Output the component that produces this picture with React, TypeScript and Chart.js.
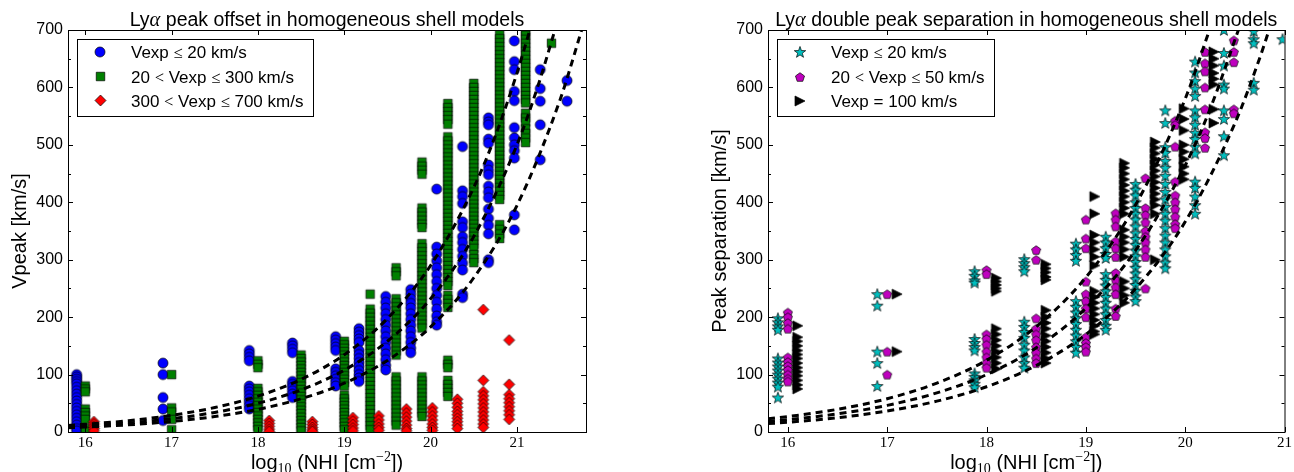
import { useEffect, useRef } from "react";
import { Chart, registerables } from "chart.js";

Chart.register(...registerables);

type Column = [number, number[]];
type Pt = [number, number];

// ---------- shared axes ----------
const yRange: Pt = [0, 700];
const yTickValues = [0, 100, 200, 300, 400, 500, 600, 700];
const yMinorTickValues = [50, 150, 250, 350, 450, 550, 650];
const xTickValues = [16, 17, 18, 19, 20, 21];
const leftXRange: Pt = [15.8, 21.8];
const rightXRange: Pt = [15.8, 21.0];

// ---------- left panel: peak offset (log NHI, Vpeak km/s) ----------
const offsetSlow: Column[] = [
  [15.9, [100, 96, 92, 88, 84, 78, 72, 66, 60, 54, 48, 42, 36, 30, 24, 18, 12, 6, 2]],
  [16.9, [120, 100, 60, 40, 20]],
  [17.9, [142, 136, 130, 124, 80, 75, 70, 64, 58, 52, 46, 40]],
  [18.4, [155, 150, 144, 138, 88, 83, 78, 72, 66, 60]],
  [18.9, [166, 160, 154, 148, 142, 110, 104, 98, 92, 86, 80]],
  [19.17, [180, 174, 168, 162, 156, 142, 135, 128, 121, 114, 107, 100, 94, 88]],
  [19.48, [236, 226, 216, 206, 196, 186, 176, 166, 156, 146, 136, 126, 116, 108]],
  [19.77, [248, 240, 232, 224, 216, 206, 196, 186, 176, 166, 156, 146, 138]],
  [20.07, [423, 322, 310, 298, 286, 274, 262, 250, 238, 226, 214, 202, 192, 186]],
  [20.37, [497, 420, 410, 398, 366, 356, 340, 330, 318, 306, 294, 282, 240, 234]],
  [20.67, [547, 540, 535, 510, 503, 465, 456, 448, 428, 418, 408, 388, 372, 360, 345, 300, 295]],
  [20.97, [681, 645, 631, 593, 577, 530, 512, 500, 490, 477, 378, 352]],
  [21.27, [631, 598, 576, 535, 474]],
  [21.58, [612, 576]],
];

const offsetMid: Column[] = [
  [16.0, [80, 75, 70, 40, 34, 28, 22, 6, 1]],
  [17.0, [100, 42, 35, 22, 4]],
  [18.0, [124, 118, 112, 76, 70, 64, 58, 52, 46, 40, 34, 28, 22, 16, 10, 4]],
  [18.5, [134, 128, 122, 116, 110, 104, 98, 92, 86, 80, 74, 68, 62, 56, 50, 44, 38, 32, 26, 20, 14, 8, 2]],
  [19.0, [158, 152, 146, 140, 134, 128, 122, 116, 110, 104, 98, 92, 86, 80, 64, 58, 52, 46, 40, 34, 28, 22, 16, 10, 4]],
  [19.3, [240, 214, 207, 200, 193, 186, 179, 172, 165, 158, 151, 144, 137, 130, 123, 116, 109, 102, 95, 88, 81, 74, 67, 60, 53, 46, 39, 32, 25, 18, 11, 4]],
  [19.6, [286, 279, 272, 232, 225, 218, 211, 204, 197, 190, 183, 176, 169, 162, 155, 148, 141, 134, 96, 89, 82, 75, 68, 61, 54, 47, 40, 33, 26, 19, 12]],
  [19.9, [470, 463, 456, 449, 390, 383, 376, 369, 362, 356, 328, 321, 314, 307, 300, 293, 286, 279, 272, 265, 258, 251, 244, 237, 230, 223, 216, 209, 202, 195, 188, 181, 96, 89, 82, 75, 68, 61, 54, 47, 40, 33, 27]],
  [20.2, [572, 565, 558, 551, 544, 536, 514, 507, 500, 493, 486, 479, 472, 465, 458, 451, 444, 437, 430, 423, 416, 409, 402, 395, 388, 381, 374, 367, 360, 353, 346, 339, 332, 325, 318, 311, 304, 297, 290, 283, 276, 269, 262, 255, 238, 231, 224, 217, 125, 118, 112, 90, 83, 76, 69, 62]],
  [20.5, [607, 600, 593, 586, 579, 572, 565, 558, 551, 544, 537, 530, 523, 516, 509, 502, 495, 488, 481, 474, 467, 460, 453, 446, 439, 432, 425, 418, 411, 404, 397, 390, 383, 376, 369, 362, 355, 348, 341, 334, 327, 320, 309, 302, 295]],
  [20.8, [692, 685, 678, 671, 664, 657, 650, 643, 636, 629, 622, 615, 608, 601, 594, 587, 580, 573, 566, 559, 552, 545, 538, 531, 524, 517, 510, 503, 496, 489, 482, 475, 468, 461, 454, 447, 440, 433, 426, 419, 412, 405, 361, 353, 345, 337]],
  [21.1, [698, 691, 684, 677, 670, 663, 656, 649, 642, 635, 628, 621, 614, 607, 600, 593, 586, 579, 573, 555, 547, 540, 528, 520, 512, 504]],
  [21.4, [677]],
];

const offsetFast: Column[] = [
  [16.1, [18, 14, 10, 6, 2]],
  [18.13, [20, 15, 10, 5, 1]],
  [18.63, [18, 13, 8, 4, 1]],
  [19.1, [25, 19, 13, 7, 2]],
  [19.4, [28, 21, 14, 8, 3]],
  [19.72, [40, 33, 26, 19, 12, 6, 2]],
  [20.02, [42, 35, 28, 21, 14, 8, 3]],
  [20.31, [57, 50, 43, 36, 30, 24, 18, 12, 6]],
  [20.61, [213, 90, 70, 63, 56, 49, 42, 35, 28, 21, 14, 8]],
  [20.91, [160, 83, 65, 58, 51, 44, 37, 30, 22]],
];

const offsetCurveA: Pt[] = [[15.8, 11.5], [16, 13.5], [16.5, 19.7], [17, 29], [17.5, 42.6], [18, 62.5], [18.5, 91.7], [19, 134.6], [19.5, 197.6], [20, 290], [20.5, 425.7], [20.75, 515.7], [21, 624.8], [21.15, 700]];
const offsetCurveB: Pt[] = [[15.8, 9.2], [16, 10.8], [16.5, 15.8], [17, 23.2], [17.5, 34.1], [18, 50], [18.5, 73.4], [19, 107.7], [19.5, 158], [20, 232], [20.5, 340.5], [21, 499.8], [21.25, 605.6], [21.44, 700]];
const offsetCurveC: Pt[] = [[15.8, 7.3], [16, 8.5], [16.5, 12.5], [17, 18.3], [17.5, 26.9], [18, 39.4], [18.5, 57.9], [19, 84.9], [19.5, 124.7], [20, 183], [20.5, 268.6], [21, 394.3], [21.5, 578.7], [21.75, 700]];

// ---------- right panel: double peak separation (log NHI, km/s) ----------
const sepSlow: Column[] = [
  [15.9, [198, 191, 184, 178, 128, 121, 114, 107, 100, 93, 86, 79, 60]],
  [16.9, [240, 220, 140, 120, 80]],
  [17.88, [280, 272, 264, 260, 162, 155, 148, 142, 102, 96, 90, 84, 78]],
  [18.38, [301, 294, 287, 280, 192, 183, 174, 164, 152, 142, 130, 120, 112]],
  [18.9, [328, 318, 308, 298, 228, 218, 208, 198, 188, 178, 168, 158, 148, 138]],
  [19.2, [340, 330, 320, 310, 303, 275, 265, 255, 245, 235, 225, 215, 205, 195, 185, 178]],
  [19.5, [432, 422, 412, 400, 390, 380, 370, 358, 346, 336, 326, 316, 306, 296, 286, 276, 266, 256, 246, 236, 228]],
  [19.8, [560, 538, 496, 486, 472, 460, 446, 432, 418, 405, 392, 380, 368, 355, 342, 330, 318, 306, 295, 285]],
  [20.1, [645, 626, 611, 598, 585, 560, 548, 535, 521, 510, 497, 485, 436, 425, 410, 395, 380]],
  [20.39, [700, 660, 638, 605, 598, 560, 545, 515, 482]],
  [20.69, [698, 684, 677, 608, 596]],
  [20.98, [684]],
];

const sepMid: Column[] = [
  [16.0, [208, 200, 190, 180, 130, 122, 115, 108, 100, 93, 88]],
  [17.0, [240, 140, 100]],
  [18.0, [282, 275, 170, 162, 152, 140, 130, 120, 112]],
  [18.5, [317, 300, 198, 180, 170, 160, 148, 138, 128, 120]],
  [19.0, [370, 337, 320, 262, 240, 228, 215, 200, 165, 155, 148, 140]],
  [19.3, [381, 370, 358, 332, 320, 305, 277, 265, 252, 240, 215, 202]],
  [19.6, [442, 390, 378, 365, 350, 340, 330, 318, 305, 250]],
  [19.9, [542, 535, 497, 436, 412, 400, 388, 375, 362, 355]],
  [20.2, [662, 642, 628, 600, 562, 522, 512, 495]],
  [20.49, [682, 662, 644, 562, 555]],
];

const sepFast: Column[] = [
  [16.1, [185, 165, 158, 150, 142, 135, 128, 120, 112, 105, 98, 90, 82, 75]],
  [17.1, [240, 140]],
  [18.1, [268, 262, 256, 250, 245, 180, 170, 160, 150, 140, 130, 120, 110]],
  [18.6, [292, 285, 278, 270, 265, 212, 200, 190, 180, 168, 158, 148, 138, 128, 120]],
  [19.09, [410, 380, 343, 330, 318, 305, 290, 245, 235, 225, 215, 205, 195, 185, 175, 170]],
  [19.39, [468, 460, 450, 440, 430, 420, 410, 400, 390, 380, 352, 340, 330, 318, 305, 262, 250, 238, 225]],
  [19.7, [505, 495, 485, 475, 465, 455, 445, 435, 425, 415, 405, 395, 380, 300]],
  [19.99, [563, 545, 525, 500, 488, 475, 462, 450, 440]],
  [20.29, [662, 650, 638, 625, 615, 605, 562, 538]],
];

const sepCurveA: Pt[] = [[15.8, 23.1], [16, 26.9], [16.5, 39.5], [17, 58], [17.5, 85.1], [18, 124.9], [18.5, 183.4], [19, 269.2], [19.5, 395.2], [20, 580], [20.25, 702.7]];
const sepCurveB: Pt[] = [[15.8, 18.5], [16, 21.5], [16.5, 31.6], [17, 46.4], [17.5, 68.1], [18, 99.9], [18.5, 146.7], [19, 215.4], [19.5, 316.1], [20, 464], [20.25, 562.1], [20.54, 702]];
const sepCurveC: Pt[] = [[15.8, 14.6], [16, 17], [16.5, 24.9], [17, 36.6], [17.5, 53.7], [18, 78.8], [18.5, 115.7], [19, 169.9], [19.5, 249.4], [20, 366], [20.5, 537.2], [20.75, 650.9], [20.85, 702.8]];

// ---------- text ----------
const leftTitle = ["Ly", "α", " peak offset in homogeneous shell models"];
const rightTitle = ["Ly", "α", " double peak separation in homogeneous shell models"];
const xLabelParts = ["log", "10", " (NHI [cm", "−2", "])"];
const leftYLabel = "Vpeak [km/s]";
const rightYLabel = "Peak separation [km/s]";
const leftLegendLabels = ["Vexp ≤ 20 km/s", "20 < Vexp ≤ 300 km/s", "300 < Vexp ≤ 700 km/s"];
const rightLegendLabels = ["Vexp ≤ 20 km/s", "20 < Vexp ≤ 50 km/s", "Vexp = 100 km/s"];

const SANS = '"Liberation Sans", Arial, Helvetica, sans-serif';
const SERIF = '"Liberation Serif", "Times New Roman", serif';

type MarkerKind = "circle" | "square" | "diamond" | "star" | "pentagon" | "triangleRight";

function makeMarker(kind: MarkerKind, size: number, fill: string): HTMLCanvasElement {
  const dim = Math.ceil(size) + 4;
  const c = document.createElement("canvas");
  c.width = dim;
  c.height = dim;
  const ctx = c.getContext("2d")!;
  ctx.translate(dim / 2, dim / 2);
  const r = size / 2;
  ctx.beginPath();
  if (kind === "circle") {
    ctx.arc(0, 0, r, 0, Math.PI * 2);
  } else if (kind === "square") {
    ctx.rect(-r, -r, 2 * r, 2 * r);
  } else if (kind === "diamond") {
    ctx.moveTo(0, -r);
    ctx.lineTo(r, 0);
    ctx.lineTo(0, r);
    ctx.lineTo(-r, 0);
    ctx.closePath();
  } else if (kind === "star") {
    for (let i = 0; i < 10; i++) {
      const a = -Math.PI / 2 + (i * Math.PI) / 5;
      const rr = i % 2 === 0 ? r : r * 0.4;
      const px = Math.cos(a) * rr;
      const py = Math.sin(a) * rr + r * 0.08;
      if (i === 0) ctx.moveTo(px, py);
      else ctx.lineTo(px, py);
    }
    ctx.closePath();
  } else if (kind === "pentagon") {
    for (let i = 0; i < 5; i++) {
      const a = -Math.PI / 2 + (i * 2 * Math.PI) / 5;
      const px = Math.cos(a) * r;
      const py = Math.sin(a) * r + r * 0.1;
      if (i === 0) ctx.moveTo(px, py);
      else ctx.lineTo(px, py);
    }
    ctx.closePath();
  } else {
    ctx.moveTo(r, 0);
    ctx.lineTo(-r, -r);
    ctx.lineTo(-r, r);
    ctx.closePath();
  }
  ctx.fillStyle = fill;
  ctx.fill();
  ctx.lineWidth = 0.7;
  ctx.strokeStyle = "#000";
  ctx.stroke();
  return c;
}

type Run = { text: string; font: string; dy?: number };

function drawRuns(ctx: CanvasRenderingContext2D, runs: Run[], x: number, y: number, align: "left" | "center") {
  const widths = runs.map((r) => {
    ctx.font = r.font;
    return ctx.measureText(r.text).width;
  });
  const total = widths.reduce((s, w) => s + w, 0);
  let cx = align === "center" ? x - total / 2 : x;
  ctx.textAlign = "left";
  ctx.textBaseline = "alphabetic";
  runs.forEach((r, i) => {
    ctx.font = r.font;
    ctx.fillText(r.text, cx, y + (r.dy || 0));
    cx += widths[i];
  });
}

function legendRuns(label: string): Run[] {
  return label
    .split(/([≤<])/)
    .filter((s) => s.length > 0)
    .map((s) => ({ text: s, font: s === "≤" || s === "<" ? `16.5px ${SERIF}` : `17px ${SANS}` }));
}

type SeriesSpec = { columns: Column[]; kind: MarkerKind; size: number; color: string };
type PanelSpec = {
  xRange: Pt;
  yAxisWidth: number;
  padRight: number;
  series: SeriesSpec[];
  curves: Pt[][];
  title: string[];
  yLabel: string;
  yLabelX: number;
  legendBox: [number, number, number, number];
  legendLabels: string[];
};

const leftPanel: PanelSpec = {
  xRange: leftXRange,
  yAxisWidth: 68,
  padRight: 61,
  series: [
    { columns: offsetSlow, kind: "circle", size: 10, color: "#0000ff" },
    { columns: offsetMid, kind: "square", size: 8.5, color: "#008000" },
    { columns: offsetFast, kind: "diamond", size: 11, color: "#ff0000" },
  ],
  curves: [offsetCurveA, offsetCurveB, offsetCurveC],
  title: leftTitle,
  yLabel: leftYLabel,
  yLabelX: 26,
  legendBox: [77, 39, 236, 77],
  legendLabels: leftLegendLabels,
};

const rightPanel: PanelSpec = {
  xRange: rightXRange,
  yAxisWidth: 121,
  padRight: 9,
  series: [
    { columns: sepSlow, kind: "star", size: 12, color: "#00bfbf" },
    { columns: sepMid, kind: "pentagon", size: 9.5, color: "#bf00bf" },
    { columns: sepFast, kind: "triangleRight", size: 10, color: "#000000" },
  ],
  curves: [sepCurveA, sepCurveB, sepCurveC],
  title: rightTitle,
  yLabel: rightYLabel,
  yLabelX: 78.5,
  legendBox: [130, 39, 217, 77],
  legendLabels: rightLegendLabels,
};

function makeDecor(p: PanelSpec, images: HTMLCanvasElement[]) {
  return {
    id: "panelDecor",
    afterDatasetsDraw(chart: any) {
      const { ctx, chartArea: a, scales } = chart;
      const xs = scales.x;
      const ys = scales.y;
      ctx.save();

      // axes frame
      ctx.strokeStyle = "#000";
      ctx.lineWidth = 1;
      ctx.strokeRect(a.left + 0.5, a.top + 0.5, a.right - a.left, a.bottom - a.top);

      // inward ticks on all four sides
      ctx.beginPath();
      for (const v of xTickValues) {
        const px = Math.round(xs.getPixelForValue(v)) + 0.5;
        ctx.moveTo(px, a.bottom);
        ctx.lineTo(px, a.bottom - 5);
        ctx.moveTo(px, a.top);
        ctx.lineTo(px, a.top + 5);
      }
      for (const v of yTickValues) {
        const py = Math.round(ys.getPixelForValue(v)) + 0.5;
        ctx.moveTo(a.left, py);
        ctx.lineTo(a.left + 5, py);
        ctx.moveTo(a.right, py);
        ctx.lineTo(a.right - 5, py);
      }
      for (const v of yMinorTickValues) {
        const py = Math.round(ys.getPixelForValue(v)) + 0.5;
        ctx.moveTo(a.left, py);
        ctx.lineTo(a.left + 3, py);
        ctx.moveTo(a.right, py);
        ctx.lineTo(a.right - 3, py);
      }
      ctx.stroke();

      ctx.fillStyle = "#000";
      const cx = (a.left + a.right) / 2;

      // title
      drawRuns(
        ctx,
        [
          { text: p.title[0], font: `19.5px ${SANS}` },
          { text: p.title[1], font: `italic 20.5px ${SERIF}` },
          { text: p.title[2], font: `19.5px ${SANS}` },
        ],
        cx,
        26,
        "center"
      );

      // x-axis label
      drawRuns(
        ctx,
        [
          { text: xLabelParts[0], font: `20px ${SANS}` },
          { text: xLabelParts[1], font: `14px ${SERIF}`, dy: 4 },
          { text: xLabelParts[2], font: `20px ${SANS}` },
          { text: xLabelParts[3], font: `14px ${SERIF}`, dy: -8 },
          { text: xLabelParts[4], font: `20px ${SANS}` },
        ],
        cx,
        469,
        "center"
      );

      // y-axis label
      ctx.save();
      ctx.translate(p.yLabelX, (a.top + a.bottom) / 2);
      ctx.rotate(-Math.PI / 2);
      ctx.font = `20px ${SANS}`;
      ctx.textAlign = "center";
      ctx.textBaseline = "alphabetic";
      ctx.fillText(p.yLabel, 0, 0);
      ctx.restore();

      // legend
      const [bx, by, bw, bh] = p.legendBox;
      ctx.fillStyle = "#fff";
      ctx.fillRect(bx, by, bw, bh);
      ctx.strokeStyle = "#000";
      ctx.lineWidth = 1;
      ctx.strokeRect(bx + 0.5, by + 0.5, bw, bh);
      const rowCenters = [52, 76.5, 100.5];
      p.legendLabels.forEach((label, i) => {
        const img = images[i];
        const my = rowCenters[i];
        ctx.drawImage(img, Math.round(bx + 23 - img.width / 2), Math.round(my - img.height / 2));
        ctx.fillStyle = "#000";
        drawRuns(ctx, legendRuns(label), bx + 54, my + 6, "left");
      });

      ctx.restore();
    },
  };
}

function buildChart(canvas: HTMLCanvasElement, p: PanelSpec) {
  const images = p.series.map((s) => makeMarker(s.kind, s.size, s.color));
  const datasets: any[] = [];
  p.curves.forEach((curve) => {
    datasets.push({
      type: "line",
      data: curve.map(([x, y]) => ({ x, y })),
      borderColor: "#000",
      borderWidth: 3,
      borderDash: [7, 5],
      pointRadius: 0,
      fill: false,
      cubicInterpolationMode: "monotone",
      order: 0,
      clip: 0,
    });
  });
  p.series.forEach((s, i) => {
    datasets.push({
      type: "scatter",
      data: s.columns.flatMap(([x, ys]) => ys.map((y) => ({ x, y }))),
      pointStyle: images[i],
      pointRadius: 5,
      order: p.series.length - i,
      clip: 0,
    });
  });

  return new Chart(canvas, {
    type: "scatter",
    data: { datasets },
    options: {
      animation: false,
      responsive: false,
      events: [],
      layout: { padding: { top: 30, right: p.padRight, left: 0, bottom: 0 } },
      plugins: { legend: { display: false }, tooltip: { enabled: false }, title: { display: false } },
      scales: {
        x: {
          type: "linear",
          min: p.xRange[0],
          max: p.xRange[1],
          grid: { display: false, drawTicks: false },
          border: { display: false },
          afterBuildTicks: (s: any) => {
            s.ticks = xTickValues.map((value) => ({ value }));
          },
          afterFit: (s: any) => {
            s.height = 40;
          },
          ticks: {
            autoSkip: false,
            maxRotation: 0,
            padding: 2,
            color: "#000",
            font: { family: SERIF, size: 15 },
            callback: (v: any) => String(v),
          },
        },
        y: {
          type: "linear",
          min: yRange[0],
          max: yRange[1],
          grid: { display: false, drawTicks: false },
          border: { display: false },
          afterBuildTicks: (s: any) => {
            s.ticks = yTickValues.map((value) => ({ value }));
          },
          afterFit: (s: any) => {
            s.width = p.yAxisWidth;
          },
          ticks: {
            autoSkip: false,
            padding: 5,
            color: "#000",
            font: { family: SANS, size: 16 },
            callback: (v: any) => String(v),
          },
        },
      },
    } as any,
    plugins: [makeDecor(p, images)],
  } as any);
}

export default function App() {
  const leftRef = useRef<HTMLCanvasElement>(null);
  const rightRef = useRef<HTMLCanvasElement>(null);

  useEffect(() => {
    const charts = [buildChart(leftRef.current!, leftPanel), buildChart(rightRef.current!, rightPanel)];
    return () => charts.forEach((c) => c.destroy());
  }, []);

  return (
    <div style={{ position: "fixed", left: 0, top: 0, width: 1294, height: 472, background: "#fff", overflow: "hidden" }}>
      <canvas ref={leftRef} width={647} height={472} style={{ position: "absolute", left: 0, top: 0 }} />
      <canvas ref={rightRef} width={647} height={472} style={{ position: "absolute", left: 647, top: 0 }} />
    </div>
  );
}
